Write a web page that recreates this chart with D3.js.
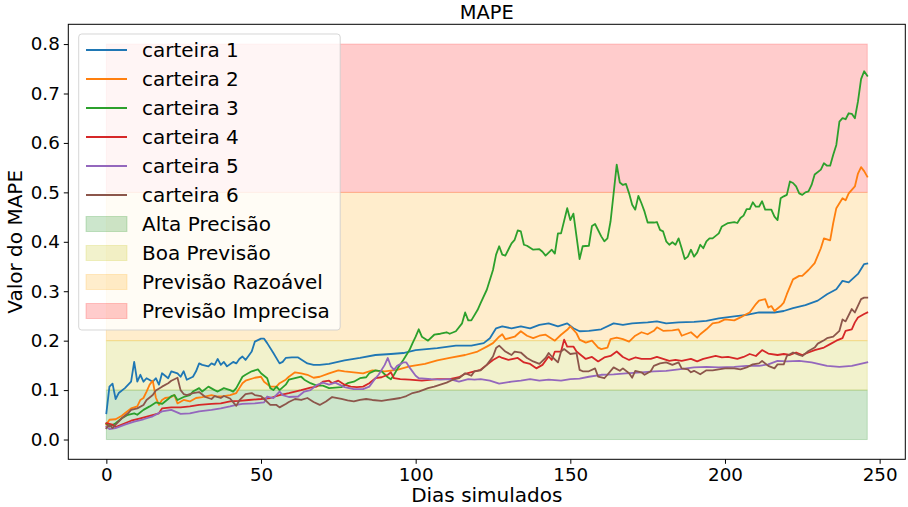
<!DOCTYPE html>
<html>
<head>
<meta charset="utf-8">
<script src="https://cdn.jsdelivr.net/npm/d3@7"></script>
<style>
  body { margin: 0; background: #fff; }
  svg { display: block; font-family: "DejaVu Sans", sans-serif; }
</style>
</head>
<body>
<svg id="chart" width="908" height="507"></svg>
<script>
// MAPE por carteira, pares [dia, valor]
var carteira1 = [[0,.053],[1,.107],[2,.113],[3,.082],[4,.094],[6,.104],[8,.117],[9,.157],[10,.117],[11,.131],[12,.117],[13,.124],[15,.117],[16,.124],[17,.111],[18,.134],[20,.124],[21,.138],[23,.134],[24,.127],[25,.138],[26,.121],[28,.127],[29,.138],[30,.154],[31,.151],[33,.148],[34,.154],[35,.151],[36,.163],[37,.151],[38,.157],[39,.148],[41,.157],[42,.154],[43,.163],[44,.168],[45,.161],[47,.178],[48,.198],[50,.204],[51,.204],[52,.195],[54,.175],[56,.154],[57,.157],[58,.165],[60,.166],[62,.166],[64,.158],[65,.154],[67,.151],[69,.151],[72,.153],[77,.160],[82,.165],[87,.171],[92,.173],[96,.175],[100,.181],[107,.185],[113,.190],[118,.190],[122,.195],[124,.205],[126,.225],[128,.229],[131,.225],[134,.229],[137,.225],[140,.232],[143,.235],[146,.229],[149,.235],[151,.225],[153,.219],[156,.220],[160,.223],[164,.235],[167,.232],[170,.235],[175,.237],[178,.239],[181,.235],[185,.237],[190,.238],[194,.240],[198,.245],[203,.249],[207,.252],[211,.257],[216,.257],[219,.260],[222,.266],[226,.272],[230,.281],[233,.294],[236,.304],[238,.321],[240,.318],[243,.335],[245,.355],[246,.356]];

var carteira2 = [[0,.030],[1,.040],[3,.041],[5,.048],[6,.053],[8,.063],[10,.067],[11,.080],[12,.084],[13,.097],[14,.111],[15,.119],[16,.085],[17,.070],[18,.080],[19,.084],[21,.086],[22,.090],[23,.073],[25,.080],[27,.077],[29,.084],[31,.086],[34,.090],[36,.087],[38,.088],[40,.090],[42,.094],[43,.104],[44,.114],[45,.119],[48,.125],[50,.127],[51,.117],[53,.107],[55,.107],[56,.114],[58,.121],[59,.127],[61,.136],[63,.134],[65,.131],[67,.125],[69,.127],[72,.134],[75,.140],[77,.138],[80,.136],[83,.134],[86,.140],[90,.138],[94,.141],[98,.148],[103,.153],[107,.160],[111,.165],[116,.171],[120,.178],[123,.188],[125,.195],[127,.208],[128,.213],[129,.203],[132,.208],[134,.219],[136,.210],[138,.205],[140,.210],[142,.212],[145,.200],[147,.212],[149,.222],[150,.229],[152,.215],[153,.202],[155,.196],[157,.200],[159,.186],[160,.183],[162,.186],[163,.203],[165,.206],[167,.203],[169,.198],[171,.210],[173,.217],[175,.213],[177,.220],[178,.227],[180,.220],[183,.221],[185,.223],[186,.210],[189,.217],[191,.206],[192,.213],[194,.223],[196,.235],[198,.237],[200,.243],[203,.241],[205,.247],[207,.254],[208,.257],[210,.274],[211,.281],[213,.284],[214,.267],[215,.270],[216,.260],[218,.270],[219,.277],[220,.294],[222,.324],[224,.331],[225,.331],[227,.343],[229,.357],[231,.387],[232,.407],[233,.405],[234,.403],[235,.438],[236,.468],[238,.488],[239,.484],[240,.498],[242,.512],[243,.538],[244,.551],[245,.543],[246,.532]];

var carteira3 = [[0,.032],[1,.026],[3,.033],[5,.043],[7,.050],[9,.053],[10,.050],[12,.060],[14,.067],[16,.075],[18,.072],[20,.082],[21,.088],[22,.090],[23,.080],[25,.086],[27,.090],[28,.097],[30,.104],[31,.097],[33,.107],[35,.100],[36,.097],[38,.104],[40,.100],[41,.097],[42,.104],[44,.127],[45,.131],[47,.138],[49,.142],[50,.134],[52,.124],[53,.104],[54,.100],[55,.107],[56,.100],[58,.111],[59,.121],[61,.124],[63,.127],[64,.121],[66,.114],[68,.109],[70,.109],[72,.104],[76,.106],[78,.114],[80,.117],[82,.124],[84,.126],[85,.134],[87,.140],[89,.138],[91,.126],[92,.122],[93,.131],[94,.142],[96,.161],[98,.181],[99,.195],[100,.208],[101,.223],[102,.208],[104,.200],[106,.212],[108,.214],[110,.217],[111,.214],[113,.219],[115,.235],[116,.257],[117,.241],[118,.241],[120,.262],[121,.276],[123,.303],[125,.343],[126,.374],[127,.391],[128,.374],[129,.372],[131,.397],[132,.404],[133,.423],[134,.421],[135,.394],[136,.392],[138,.384],[140,.385],[141,.380],[142,.372],[144,.384],[145,.376],[146,.417],[147,.417],[149,.468],[150,.444],[151,.457],[153,.365],[154,.391],[156,.392],[157,.432],[158,.436],[160,.411],[161,.401],[162,.407],[163,.441],[164,.498],[165,.556],[166,.520],[167,.515],[168,.517],[169,.498],[170,.475],[171,.465],[172,.493],[173,.478],[174,.461],[175,.439],[177,.439],[178,.440],[179,.424],[180,.421],[181,.401],[182,.394],[183,.399],[184,.394],[185,.407],[186,.387],[187,.365],[188,.370],[189,.384],[190,.370],[191,.378],[192,.394],[193,.387],[194,.401],[195,.407],[196,.407],[198,.417],[199,.431],[201,.438],[203,.440],[204,.438],[205,.448],[206,.453],[207,.466],[208,.466],[209,.480],[210,.471],[211,.471],[212,.482],[213,.465],[215,.465],[216,.451],[217,.444],[218,.488],[219,.492],[220,.495],[221,.522],[222,.519],[223,.512],[224,.498],[225,.495],[226,.500],[227,.502],[228,.515],[229,.536],[231,.546],[232,.559],[233,.554],[234,.554],[235,.576],[236,.596],[237,.643],[238,.650],[239,.648],[240,.660],[241,.659],[242,.650],[243,.684],[244,.729],[245,.745],[246,.736]];

var carteira4 = [[0,.033],[2,.030],[3,.025],[6,.033],[8,.038],[11,.043],[14,.048],[17,.053],[18,.063],[21,.065],[24,.065],[27,.067],[30,.070],[34,.072],[37,.073],[40,.077],[43,.078],[46,.080],[50,.082],[53,.084],[56,.090],[59,.094],[63,.100],[66,.105],[68,.107],[70,.117],[72,.119],[73,.114],[75,.119],[77,.111],[79,.107],[81,.106],[83,.107],[85,.114],[87,.124],[89,.126],[91,.131],[92,.136],[93,.124],[95,.122],[98,.121],[102,.119],[107,.122],[111,.122],[114,.126],[116,.133],[119,.138],[121,.141],[123,.151],[125,.161],[127,.168],[128,.165],[130,.161],[133,.165],[135,.156],[137,.153],[139,.144],[141,.151],[143,.168],[144,.161],[145,.178],[147,.178],[148,.202],[149,.188],[151,.188],[152,.178],[154,.168],[155,.163],[157,.167],[159,.158],[161,.166],[163,.169],[165,.178],[167,.167],[169,.161],[171,.166],[173,.163],[176,.163],[178,.167],[180,.163],[182,.159],[184,.161],[186,.159],[189,.163],[191,.158],[193,.163],[195,.166],[197,.169],[199,.166],[201,.167],[204,.163],[206,.167],[208,.173],[210,.169],[212,.181],[214,.174],[217,.171],[219,.173],[221,.171],[223,.176],[225,.171],[227,.176],[229,.181],[232,.186],[234,.193],[236,.200],[238,.205],[239,.220],[241,.223],[242,.237],[243,.247],[245,.254],[246,.257]];

var carteira5 = [[0,.026],[1,.021],[3,.023],[6,.030],[9,.036],[12,.041],[15,.047],[18,.057],[21,.060],[24,.052],[27,.053],[30,.057],[34,.060],[37,.063],[40,.067],[42,.070],[44,.072],[48,.073],[51,.075],[52,.087],[54,.084],[56,.097],[57,.090],[59,.086],[62,.087],[64,.097],[66,.100],[68,.110],[70,.115],[72,.111],[74,.115],[77,.106],[80,.102],[83,.102],[85,.107],[87,.124],[88,.131],[90,.151],[91,.165],[92,.148],[93,.141],[94,.149],[96,.156],[97,.156],[98,.146],[100,.129],[101,.124],[105,.122],[108,.121],[111,.122],[114,.117],[117,.122],[119,.121],[121,.122],[124,.119],[127,.113],[131,.117],[134,.119],[137,.122],[140,.119],[143,.121],[147,.119],[150,.122],[153,.123],[156,.127],[160,.131],[164,.132],[168,.134],[173,.136],[177,.138],[181,.139],[185,.142],[190,.146],[194,.147],[198,.146],[203,.147],[207,.149],[211,.149],[214,.152],[217,.159],[220,.158],[224,.159],[228,.156],[233,.149],[237,.147],[241,.149],[246,.156]];

var carteira6 = [[0,.023],[1,.030],[2,.023],[3,.030],[5,.043],[7,.053],[8,.060],[10,.063],[12,.070],[13,.080],[15,.090],[16,.099],[18,.107],[20,.114],[21,.119],[23,.125],[24,.100],[25,.092],[26,.090],[28,.094],[30,.096],[32,.086],[34,.082],[35,.088],[37,.084],[38,.088],[40,.083],[42,.068],[43,.079],[45,.092],[47,.094],[48,.090],[50,.088],[51,.082],[53,.070],[55,.070],[56,.065],[58,.072],[59,.076],[61,.082],[63,.080],[65,.084],[67,.076],[69,.070],[71,.077],[73,.086],[76,.082],[78,.079],[80,.077],[82,.080],[84,.082],[86,.080],[89,.078],[91,.080],[93,.082],[95,.084],[97,.088],[99,.094],[101,.097],[104,.104],[106,.107],[108,.111],[110,.115],[112,.121],[114,.124],[116,.134],[118,.129],[119,.138],[121,.140],[123,.151],[125,.168],[126,.185],[127,.190],[129,.178],[131,.171],[132,.178],[134,.176],[136,.165],[138,.158],[140,.153],[142,.165],[143,.175],[144,.168],[146,.156],[147,.178],[148,.183],[150,.173],[152,.175],[153,.141],[154,.138],[156,.138],[158,.144],[159,.127],[161,.124],[162,.131],[164,.146],[166,.139],[167,.144],[169,.134],[170,.125],[171,.139],[173,.136],[174,.131],[176,.138],[177,.149],[179,.154],[181,.156],[183,.151],[185,.156],[186,.144],[188,.142],[189,.136],[190,.139],[192,.132],[194,.140],[196,.140],[198,.142],[200,.144],[203,.144],[205,.142],[207,.146],[209,.152],[211,.154],[212,.159],[214,.149],[216,.144],[217,.152],[219,.152],[220,.169],[222,.176],[224,.171],[225,.169],[227,.179],[229,.186],[230,.194],[232,.201],[233,.205],[235,.208],[237,.220],[238,.243],[239,.239],[241,.264],[242,.257],[244,.284],[245,.287],[246,.287]];

var nomesSeries = ['carteira 1', 'carteira 2', 'carteira 3', 'carteira 4', 'carteira 5', 'carteira 6'];
var series = [carteira1, carteira2, carteira3, carteira4, carteira5, carteira6];
var coresSeries = ['#1f77b4', '#ff7f0e', '#2ca02c', '#d62728', '#9467bd', '#8c564b'];

// faixas de qualidade do MAPE
var nomesFaixas = ['Alta Precisão', 'Boa Previsão', 'Previsão Razoável', 'Previsão Imprecisa'];
var limitesFaixas = [[0, 0.1], [0.1, 0.2], [0.2, 0.5], [0.5, 0.8]];
var diasFaixas = [0, 246];
var coresFaixas = ['#008000', '#bfbf00', '#ffa500', '#ff0000'];

var xTicks = [0, 50, 100, 150, 200, 250];
var yTicks = [0, 0.1, 0.2, 0.3, 0.4, 0.5, 0.6, 0.7, 0.8];

var margin = {left: 68.3, right: 905.3, top: 24.3, bottom: 459.3};

var svg = d3.select('#chart');

var x = d3.scaleLinear().domain([-12.3, 258.3]).range([margin.left, margin.right]);
var y = d3.scaleLinear().domain([-0.04, 0.84]).range([margin.bottom, margin.top]);

// faixas
svg.append('g')
  .selectAll('rect')
  .data(limitesFaixas)
  .enter()
  .append('rect')
  .attr('x', x(diasFaixas[0]))
  .attr('width', x(diasFaixas[1]) - x(diasFaixas[0]))
  .attr('y', function(d) { return y(d[1]); })
  .attr('height', function(d) { return y(d[0]) - y(d[1]); })
  .attr('fill', function(d, i) { return coresFaixas[i]; })
  .attr('fill-opacity', 0.2)
  .attr('stroke', function(d, i) { return coresFaixas[i]; })
  .attr('stroke-opacity', 0.2)
  .attr('stroke-width', 1);

// linhas
var line = d3.line()
  .x(function(d) { return x(d[0]); })
  .y(function(d) { return y(d[1]); });

svg.append('g')
  .selectAll('path')
  .data(series)
  .enter()
  .append('path')
  .attr('d', line)
  .attr('fill', 'none')
  .attr('stroke', function(d, i) { return coresSeries[i]; })
  .attr('stroke-width', 1.8)
  .attr('stroke-linejoin', 'round')
  .attr('stroke-linecap', 'square');

// eixos
var xAxis = svg.append('g')
  .attr('transform', 'translate(0,' + margin.bottom + ')')
  .call(d3.axisBottom(x).tickValues(xTicks).tickSize(4.5).tickPadding(4).tickFormat(d3.format('d')));
var yAxis = svg.append('g')
  .attr('transform', 'translate(' + margin.left + ',0)')
  .call(d3.axisLeft(y).tickValues(yTicks).tickSize(4.5).tickPadding(4).tickFormat(d3.format('.1f')));

[xAxis, yAxis].forEach(function(g) {
  g.select('.domain').remove();
  g.selectAll('line').attr('stroke', '#000').attr('stroke-width', 1);
  g.selectAll('text')
    .attr('fill', '#000')
    .style('font-size', '18.3px')
    .style('font-family', '"DejaVu Sans", sans-serif');
});

svg.append('rect')
  .attr('x', margin.left)
  .attr('y', margin.top)
  .attr('width', margin.right - margin.left)
  .attr('height', margin.bottom - margin.top)
  .attr('fill', 'none')
  .attr('stroke', '#000')
  .attr('stroke-width', 1);

// titulos
svg.append('text')
  .attr('x', (margin.left + margin.right) / 2)
  .attr('y', 19)
  .attr('text-anchor', 'middle')
  .style('font-size', '19.4px')
  .text('MAPE');

svg.append('text')
  .attr('x', (margin.left + margin.right) / 2)
  .attr('y', 502)
  .attr('text-anchor', 'middle')
  .style('font-size', '20px')
  .text('Dias simulados');

svg.append('text')
  .attr('transform', 'translate(22,' + (margin.top + margin.bottom) / 2 + ') rotate(-90)')
  .attr('text-anchor', 'middle')
  .style('font-size', '20px')
  .text('Valor do MAPE');

// legenda
var legend = svg.append('g');
legend.append('rect')
  .attr('x', 78.7)
  .attr('y', 34)
  .attr('width', 261.5)
  .attr('height', 296)
  .attr('rx', 3)
  .attr('fill', '#fff')
  .attr('fill-opacity', 0.8)
  .attr('stroke', '#cccccc')
  .attr('stroke-opacity', 0.8);

var rowY = function(i) { return 50 + i * 29; };

nomesSeries.forEach(function(nome, i) {
  legend.append('line')
    .attr('x1', 86).attr('x2', 127)
    .attr('y1', rowY(i)).attr('y2', rowY(i))
    .attr('stroke', coresSeries[i])
    .attr('stroke-width', 1.8);
  legend.append('text')
    .attr('x', 142).attr('y', rowY(i)).attr('dy', '0.36em')
    .style('font-size', '20px')
    .text(nome);
});

nomesFaixas.forEach(function(nome, i) {
  var k = i + nomesSeries.length;
  legend.append('rect')
    .attr('x', 86).attr('width', 41)
    .attr('y', rowY(k) - 7.5).attr('height', 15)
    .attr('fill', coresFaixas[i]).attr('fill-opacity', 0.2)
    .attr('stroke', coresFaixas[i]).attr('stroke-opacity', 0.2);
  legend.append('text')
    .attr('x', 142).attr('y', rowY(k)).attr('dy', '0.36em')
    .style('font-size', '20px')
    .text(nome);
});
</script>
</body>
</html>
